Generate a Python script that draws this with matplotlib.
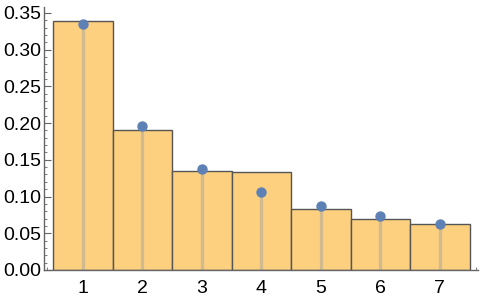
import matplotlib
matplotlib.use("Agg")
import matplotlib.pyplot as plt
from matplotlib.ticker import MultipleLocator

# data
bins = [1, 2, 3, 4, 5, 6, 7]
bar_heights = [0.339, 0.191, 0.135, 0.133, 0.083, 0.069, 0.062]
point_values = [0.335, 0.196, 0.138, 0.106, 0.087, 0.074, 0.063]
y_ticks = [0.00, 0.05, 0.10, 0.15, 0.20, 0.25, 0.30, 0.35]

plt.rcParams['font.family'] = ['Liberation Sans', 'DejaVu Sans']

fig = plt.figure(figsize=(4.82, 3.03), dpi=100)
ax = fig.add_axes([0.0913, 0.109, 0.9004, 0.868])

# histogram bars
ax.bar(bins, bar_heights, width=1.0, color='#FDD07F', edgecolor='#555555',
       linewidth=1.0, zorder=2)

# stems + points
ax.vlines(bins, 0, point_values, colors='#5E81B5', alpha=0.28, linewidth=2.4,
          zorder=3, clip_on=False)
ax.scatter(bins, point_values, s=42, color='#5E81B5', zorder=4, clip_on=False)

ax.set_xlim(0.345, 7.64)
ax.set_ylim(0, 0.358)
ax.set_xticks(bins)
ax.set_yticks(y_ticks)
ax.set_yticklabels(['%.2f' % t for t in y_ticks])
ax.xaxis.set_minor_locator(MultipleLocator(0.2))
ax.yaxis.set_minor_locator(MultipleLocator(0.01))

for s in ['top', 'right']:
    ax.spines[s].set_visible(False)
for s in ['left', 'bottom']:
    ax.spines[s].set_color('#666666')
    ax.spines[s].set_linewidth(1.0)

ax.tick_params(which='major', direction='in', length=5, width=0.8,
               color='#666666', labelsize=14, labelcolor='black', pad=7)
ax.tick_params(which='minor', direction='in', length=2.5, width=0.6,
               color='#666666')
ax.tick_params(axis='y', pad=2)

fig.savefig('out.png', dpi=100)
